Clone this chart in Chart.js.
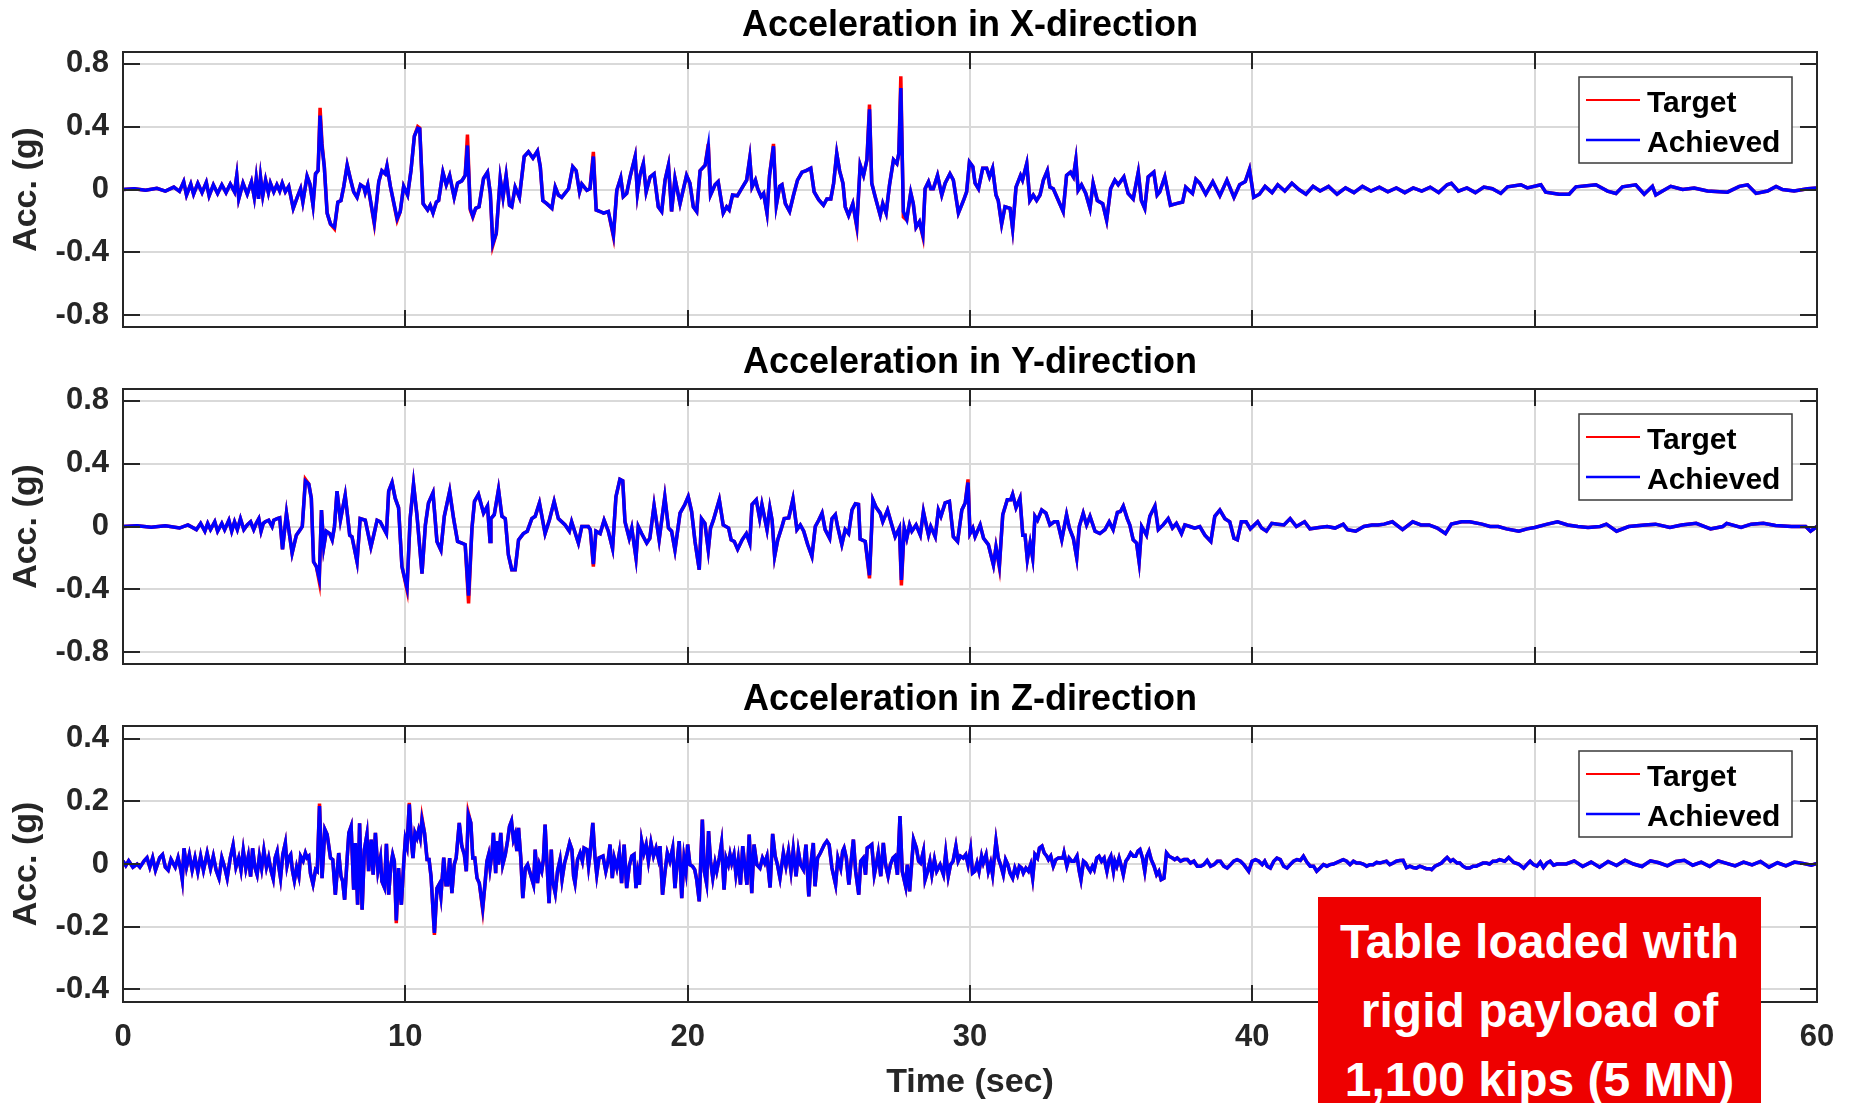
<!DOCTYPE html>
<html>
<head>
<meta charset="utf-8">
<title>Shake table acceleration</title>
<script src="https://cdn.jsdelivr.net/npm/chart.js@4.4.0/dist/chart.umd.min.js"></script>
<style>
  html, body { margin: 0; padding: 0; background: #fff; }
  body { width: 1853px; height: 1103px; position: relative; overflow: hidden; font-family: 'Liberation Sans', Arial, Helvetica, sans-serif; }
  .panel { position: absolute; left: 0; width: 1853px; }
  #note {
    position: absolute; left: 1318px; top: 897px; width: 443px; height: 206px;
    background: #ee0000; color: #fff; font-weight: bold; font-size: 48px;
    line-height: 69px; text-align: center; padding-top: 10px; box-sizing: border-box; z-index: 5;
  }
</style>
</head>
<body>
<div class="panel" style="top:0;height:337px"><canvas id="chartX"></canvas></div>
<div class="panel" style="top:337px;height:337px"><canvas id="chartY"></canvas></div>
<div class="panel" style="top:674px;height:429px"><canvas id="chartZ"></canvas></div>
<div id="note">Table loaded with<br>rigid payload of<br>1,100 kips (5 MN)</div>
<script>
// ---- tick values ----
const timeTicks = [0, 10, 20, 30, 40, 50, 60];
const accTicksXY = [-0.8, -0.4, 0, 0.4, 0.8];
const accTicksZ = [-0.4, -0.2, 0, 0.2, 0.4];

// ---- X direction (sec, g) ----
const xTime = [
  0, 0.4, 0.8, 1.2, 1.5, 1.8, 2.0, 2.15, 2.25, 2.4,
  2.5, 2.65, 2.8, 2.95, 3.05, 3.2, 3.35, 3.5, 3.65, 3.8,
  3.95, 4.03, 4.1, 4.25, 4.4, 4.55, 4.65, 4.72, 4.8, 4.87,
  4.95, 5.05, 5.15, 5.22, 5.34, 5.45, 5.55, 5.64, 5.75, 5.87,
  6.03, 6.17, 6.29, 6.37, 6.52, 6.62, 6.73, 6.82, 6.91, 6.98,
  7.05, 7.13, 7.23, 7.35, 7.49, 7.61, 7.72, 7.82, 7.94, 8.05,
  8.17, 8.29, 8.41, 8.53, 8.58, 8.67, 8.9, 9.06, 9.17, 9.29,
  9.35, 9.47, 9.71, 9.82, 9.94, 10.08, 10.2, 10.32, 10.44, 10.51,
  10.63, 10.79, 10.88, 10.98, 11.1, 11.18, 11.33, 11.45, 11.57, 11.73,
  11.85, 12.0, 12.12, 12.2, 12.3, 12.39, 12.49, 12.61, 12.77, 12.91,
  13.01, 13.1, 13.22, 13.36, 13.46, 13.57, 13.69, 13.77, 13.89, 14.04,
  14.21, 14.36, 14.52, 14.68, 14.78, 14.87, 15.01, 15.19, 15.31, 15.42,
  15.54, 15.78, 15.93, 16.05, 16.17, 16.25, 16.43, 16.54, 16.66, 16.76,
  16.9, 17.02, 17.19, 17.37, 17.49, 17.63, 17.72, 17.84, 17.96, 18.14,
  18.22, 18.31, 18.43, 18.53, 18.67, 18.81, 18.96, 19.08, 19.2, 19.32,
  19.43, 19.55, 19.73, 19.96, 20.08, 20.2, 20.32, 20.44, 20.62, 20.73,
  20.81, 20.97, 21.08, 21.26, 21.38, 21.47, 21.59, 21.76, 21.91, 22.09,
  22.2, 22.28, 22.4, 22.48, 22.6, 22.69, 22.81, 22.9, 23.04, 23.14,
  23.26, 23.34, 23.46, 23.61, 23.75, 23.89, 24.05, 24.2, 24.36, 24.48,
  24.64, 24.81, 24.93, 25.07, 25.17, 25.28, 25.38, 25.5, 25.58, 25.7,
  25.85, 25.99, 26.11, 26.23, 26.35, 26.44, 26.52, 26.64, 26.82, 26.91,
  27.03, 27.15, 27.29, 27.41, 27.48, 27.55, 27.64, 27.76, 27.9, 27.99,
  28.09, 28.21, 28.33, 28.41, 28.53, 28.61, 28.7, 28.85, 29.0, 29.12,
  29.29, 29.41, 29.59, 29.77, 29.88, 29.98, 30.1, 30.18, 30.3, 30.45,
  30.59, 30.69, 30.8, 30.92, 31.0, 31.12, 31.24, 31.42, 31.51, 31.63,
  31.79, 31.86, 32.01, 32.12, 32.24, 32.36, 32.48, 32.6, 32.74, 32.83,
  32.95, 33.13, 33.3, 33.42, 33.56, 33.66, 33.75, 33.83, 33.95, 34.1,
  34.25, 34.36, 34.51, 34.7, 34.84, 34.98, 35.13, 35.25, 35.45, 35.6,
  35.78, 35.96, 36.07, 36.19, 36.31, 36.51, 36.63, 36.72, 36.9, 37.1,
  37.31, 37.53, 37.64, 37.88, 38.0, 38.14, 38.35, 38.6, 38.85, 39.1,
  39.35, 39.55, 39.75, 39.9, 40.05, 40.25, 40.45, 40.7, 40.9, 41.15,
  41.4, 41.65, 41.9, 42.15, 42.4, 42.7, 43.0, 43.3, 43.6, 43.9,
  44.2, 44.5, 44.8, 45.1, 45.4, 45.7, 46.0, 46.3, 46.6, 46.9,
  47.05, 47.3, 47.6, 47.9, 48.2, 48.5, 48.8, 49.04, 49.51, 49.74,
  50.22, 50.39, 50.87, 51.22, 51.46, 52.17, 52.58, 52.88, 53.11, 53.58,
  53.88, 54.17, 54.29, 54.53, 54.82, 55.24, 55.65, 56.12, 56.83, 57.25,
  57.54, 57.84, 58.25, 58.55, 58.78, 59.19, 59.67, 60
];
const xTarget = [
  0, 0.005, -0.005, 0.008, -0.01, 0.015, -0.012, 0.05, -0.035, 0.035,
  -0.03, 0.04, -0.02, 0.045, -0.04, 0.03, -0.025, 0.03, -0.02, 0.035,
  -0.015, 0.09, -0.06, 0.04, -0.03, 0.05, -0.05, 0.07, -0.06, 0.08,
  -0.04, 0.06, -0.02, 0.04, -0.015, 0.03, -0.01, 0.04, -0.015, 0.02,
  -0.12, -0.05, 0.005, -0.08, 0.085, 0.035, -0.10, 0.10, 0.12, 0.52,
  0.29, 0.145, -0.15, -0.22, -0.25, -0.08, -0.07, 0.02, 0.155, 0.07,
  -0.015, -0.05, 0.03, 0.015, -0.02, 0.03, -0.22, 0.05, 0.12, 0.10,
  0.15, 0.02, -0.195, -0.14, 0.02, -0.035, 0.12, 0.34, 0.40, 0.39,
  -0.09, -0.13, -0.10, -0.15, -0.08, -0.07, 0.11, 0.03, 0.09, -0.05,
  0.04, 0.055, 0.09, 0.35, -0.13, -0.175, -0.12, -0.11, 0.07, 0.11,
  -0.025, -0.355, -0.28, 0.07, -0.05, 0.09, -0.10, -0.11, 0.015, -0.05,
  0.21, 0.24, 0.20, 0.245, 0.145, -0.07, -0.09, -0.12, 0.015, -0.035,
  -0.05, 0.005, 0.145, 0.12, -0.015, 0.035, -0.005, 0.005, 0.24, -0.13,
  -0.14, -0.15, -0.14, -0.30, -0.005, 0.075, -0.045, -0.025, 0.08, 0.21,
  -0.025, 0.09, 0.165, -0.015, 0.08, 0.10, -0.11, -0.14, 0.06, 0.155,
  -0.14, 0.07, -0.09, 0.09, 0.04, -0.11, -0.14, 0.12, 0.155, 0.29,
  -0.035, 0.03, 0.05, -0.15, -0.11, -0.13, -0.035, -0.04, 0.005, 0.06,
  0.20, 0.015, 0.06, 0.005, -0.045, -0.025, -0.15, 0.09, 0.29, -0.10,
  0.02, 0.03, -0.09, -0.14, -0.035, 0.06, 0.11, 0.12, 0.135, -0.015,
  -0.065, -0.10, -0.06, -0.06, 0.04, 0.23, 0.12, 0.04, -0.11, -0.165,
  -0.09, -0.24, 0.155, 0.09, 0.19, 0.54, 0.04, -0.045, -0.165, -0.09,
  -0.15, 0.03, 0.19, 0.165, 0.23, 0.72, -0.175, -0.195, -0.02, -0.09,
  -0.24, -0.205, -0.30, 0.005, 0.05, 0.005, 0.005, 0.09, -0.035, 0.04,
  0.10, 0.06, -0.15, -0.07, -0.015, 0.175, 0.145, 0.04, 0.005, 0.135,
  0.135, 0.08, 0.135, -0.035, -0.07, -0.22, -0.11, -0.12, -0.25, 0.015,
  0.09, 0.06, 0.165, -0.07, -0.035, -0.07, -0.035, 0.06, 0.12, 0.015,
  0.005, -0.07, -0.14, 0.09, 0.11, 0.08, 0.19, -0.005, 0.03, -0.025,
  -0.12, 0.04, -0.07, -0.09, -0.195, 0.005, 0.06, 0.03, 0.08, -0.025,
  -0.06, 0.11, -0.07, -0.12, 0.08, 0.11, -0.035, -0.015, 0.08, -0.10,
  -0.09, -0.08, 0.015, -0.025, 0.065, 0.04, -0.03, 0.05, -0.04, 0.06,
  -0.05, 0.03, 0.05, 0.13, -0.05, -0.03, 0.02, -0.02, 0.03, -0.01,
  0.04, 0.0, -0.03, 0.02, -0.01, 0.02, -0.03, 0.01, -0.02, 0.02,
  -0.01, 0.015, -0.015, 0.01, -0.02, 0.01, -0.01, 0.015, -0.02, 0.03,
  0.04, -0.01, 0.01, -0.02, 0.015, 0.005, -0.025, 0.017, 0.03, 0.01,
  0.03, -0.017, -0.03, -0.03, 0.017, 0.03, -0.01, -0.025, 0.017, 0.03,
  -0.03, 0.02, -0.035, -0.01, 0.02, 0.0, 0.01, -0.01, -0.017, 0.02,
  0.03, -0.025, -0.01, 0.02, 0.0, -0.01, 0.005, 0.01
];
const xAchieved = [
  0, 0.005, -0.005, 0.008, -0.01, 0.015, -0.012, 0.05, -0.035, 0.035,
  -0.03, 0.04, -0.02, 0.045, -0.04, 0.03, -0.025, 0.03, -0.02, 0.035,
  -0.015, 0.09, -0.06, 0.04, -0.03, 0.05, -0.05, 0.07, -0.06, 0.08,
  -0.04, 0.06, -0.02, 0.04, -0.015, 0.03, -0.01, 0.04, -0.015, 0.02,
  -0.12, -0.05, 0.005, -0.08, 0.085, 0.035, -0.10, 0.10, 0.12, 0.47,
  0.27, 0.145, -0.15, -0.22, -0.24, -0.08, -0.07, 0.02, 0.155, 0.07,
  -0.015, -0.05, 0.03, 0.015, -0.02, 0.03, -0.21, 0.05, 0.12, 0.10,
  0.15, 0.02, -0.185, -0.14, 0.02, -0.035, 0.12, 0.34, 0.39, 0.385,
  -0.09, -0.13, -0.10, -0.15, -0.08, -0.07, 0.11, 0.03, 0.09, -0.05,
  0.04, 0.055, 0.09, 0.28, -0.12, -0.17, -0.12, -0.11, 0.07, 0.11,
  -0.025, -0.345, -0.28, 0.07, -0.05, 0.09, -0.10, -0.11, 0.015, -0.05,
  0.21, 0.24, 0.20, 0.245, 0.145, -0.07, -0.09, -0.12, 0.015, -0.035,
  -0.05, 0.005, 0.145, 0.12, -0.015, 0.035, -0.005, 0.005, 0.21, -0.13,
  -0.14, -0.15, -0.14, -0.29, -0.005, 0.075, -0.045, -0.025, 0.08, 0.21,
  -0.025, 0.09, 0.165, -0.015, 0.08, 0.10, -0.11, -0.14, 0.06, 0.155,
  -0.14, 0.07, -0.09, 0.09, 0.04, -0.11, -0.14, 0.12, 0.155, 0.275,
  -0.035, 0.03, 0.05, -0.15, -0.11, -0.13, -0.035, -0.04, 0.005, 0.06,
  0.20, 0.015, 0.06, 0.005, -0.045, -0.025, -0.15, 0.09, 0.275, -0.10,
  0.02, 0.03, -0.09, -0.14, -0.035, 0.06, 0.11, 0.12, 0.135, -0.015,
  -0.065, -0.10, -0.06, -0.06, 0.04, 0.23, 0.12, 0.04, -0.11, -0.165,
  -0.09, -0.23, 0.155, 0.09, 0.19, 0.51, 0.04, -0.045, -0.165, -0.09,
  -0.15, 0.03, 0.19, 0.165, 0.23, 0.645, -0.14, -0.19, -0.02, -0.09,
  -0.24, -0.205, -0.29, 0.005, 0.05, 0.005, 0.005, 0.09, -0.035, 0.04,
  0.10, 0.06, -0.15, -0.07, -0.015, 0.175, 0.145, 0.04, 0.005, 0.135,
  0.135, 0.08, 0.135, -0.035, -0.07, -0.22, -0.11, -0.12, -0.25, 0.015,
  0.09, 0.06, 0.165, -0.07, -0.035, -0.07, -0.035, 0.06, 0.12, 0.015,
  0.005, -0.07, -0.14, 0.09, 0.11, 0.08, 0.19, -0.005, 0.03, -0.025,
  -0.12, 0.04, -0.07, -0.09, -0.195, 0.005, 0.06, 0.03, 0.08, -0.025,
  -0.06, 0.11, -0.07, -0.12, 0.08, 0.11, -0.035, -0.015, 0.08, -0.10,
  -0.09, -0.08, 0.015, -0.025, 0.065, 0.04, -0.03, 0.05, -0.04, 0.06,
  -0.05, 0.03, 0.05, 0.13, -0.05, -0.03, 0.02, -0.02, 0.03, -0.01,
  0.04, 0.0, -0.03, 0.02, -0.01, 0.02, -0.03, 0.01, -0.02, 0.02,
  -0.01, 0.015, -0.015, 0.01, -0.02, 0.01, -0.01, 0.015, -0.02, 0.03,
  0.04, -0.01, 0.01, -0.02, 0.015, 0.005, -0.025, 0.017, 0.03, 0.01,
  0.03, -0.017, -0.03, -0.03, 0.017, 0.03, -0.01, -0.025, 0.017, 0.03,
  -0.03, 0.02, -0.035, -0.01, 0.02, 0.0, 0.01, -0.01, -0.017, 0.02,
  0.03, -0.025, -0.01, 0.02, 0.0, -0.01, 0.005, 0.01
];

// ---- Y direction (sec, g) ----
const yTime = [
  0, 0.5, 1.0, 1.5, 2.0, 2.3, 2.6, 2.75, 2.9, 3.0,
  3.1, 3.25, 3.35, 3.5, 3.6, 3.75, 3.85, 3.95, 4.05, 4.16,
  4.28, 4.4, 4.52, 4.63, 4.72, 4.81, 4.89, 4.97, 5.04, 5.16,
  5.28, 5.34, 5.46, 5.55, 5.65, 5.79, 5.99, 6.14, 6.28, 6.35,
  6.46, 6.58, 6.67, 6.75, 6.85, 6.95, 7.03, 7.11, 7.2, 7.32,
  7.41, 7.49, 7.58, 7.7, 7.87, 8.03, 8.11, 8.29, 8.4, 8.58,
  8.78, 8.88, 9.0, 9.11, 9.33, 9.41, 9.53, 9.64, 9.76, 9.88,
  10.06, 10.17, 10.29, 10.41, 10.59, 10.71, 10.82, 10.98, 11.12, 11.26,
  11.38, 11.57, 11.71, 11.85, 12.0, 12.12, 12.24, 12.36, 12.45, 12.59,
  12.77, 12.91, 13.0, 13.03, 13.15, 13.3, 13.42, 13.54, 13.65, 13.77,
  13.89, 14.01, 14.18, 14.32, 14.48, 14.6, 14.75, 14.95, 15.1, 15.27,
  15.42, 15.66, 15.81, 15.89, 16.13, 16.25, 16.48, 16.55, 16.66, 16.75,
  16.9, 17.04, 17.19, 17.34, 17.46, 17.6, 17.7, 17.78, 17.93, 18.02,
  18.17, 18.25, 18.37, 18.55, 18.66, 18.81, 18.99, 19.19, 19.32, 19.43,
  19.55, 19.73, 19.9, 20.02, 20.14, 20.26, 20.41, 20.49, 20.61, 20.73,
  20.81, 20.91, 21.12, 21.26, 21.45, 21.54, 21.65, 21.77, 21.93, 22.08,
  22.2, 22.28, 22.43, 22.55, 22.63, 22.81, 22.91, 22.99, 23.08, 23.19,
  23.34, 23.42, 23.58, 23.73, 23.87, 23.99, 24.11, 24.25, 24.4, 24.52,
  24.64, 24.76, 24.87, 25.03, 25.11, 25.23, 25.31, 25.46, 25.58, 25.7,
  25.82, 25.94, 26.05, 26.11, 26.29, 26.44, 26.56, 26.68, 26.82, 26.91,
  27.08, 27.23, 27.35, 27.5, 27.57, 27.67, 27.76, 27.86, 27.94, 28.09,
  28.24, 28.35, 28.45, 28.53, 28.61, 28.77, 28.88, 28.97, 29.12, 29.27,
  29.41, 29.56, 29.71, 29.83, 29.93, 30.0, 30.1, 30.18, 30.36, 30.48,
  30.65, 30.83, 30.92, 31.04, 31.16, 31.32, 31.44, 31.51, 31.63, 31.77,
  31.87, 31.95, 32.03, 32.13, 32.22, 32.3, 32.39, 32.54, 32.69, 32.83,
  32.98, 33.1, 33.25, 33.42, 33.52, 33.66, 33.78, 33.87, 34.01, 34.13,
  34.25, 34.43, 34.6, 34.78, 34.93, 35.07, 35.22, 35.33, 35.43, 35.57,
  35.66, 35.78, 35.9, 35.99, 36.08, 36.25, 36.37, 36.55, 36.67, 36.84,
  37.02, 37.17, 37.31, 37.49, 37.61, 37.79, 37.96, 38.14, 38.32, 38.53,
  38.67, 38.85, 39.03, 39.2, 39.35, 39.47, 39.61, 39.78, 39.93, 40.19,
  40.33, 40.5, 40.69, 40.9, 41.12, 41.34, 41.56, 41.85, 42.04, 42.36,
  42.65, 42.93, 43.22, 43.37, 43.66, 43.95, 44.24, 44.45, 44.67, 44.96,
  45.32, 45.68, 45.97, 46.26, 46.55, 46.84, 47.05, 47.41, 47.7, 48.13,
  48.42, 48.71, 49.0, 49.44, 49.73, 50.0, 50.45, 50.81, 51.17, 51.53,
  51.89, 52.32, 52.54, 52.9, 53.33, 53.9, 54.28, 54.79, 55.2, 55.72,
  56.23, 56.66, 56.8, 57.31, 57.67, 58.1, 58.53, 59.1, 59.6, 59.77,
  60
];
const yTarget = [
  0, 0.005, -0.005, 0.005, -0.01, 0.01, -0.02, 0.02, -0.03, 0.02,
  -0.02, 0.03, -0.03, 0.02, -0.02, 0.04, -0.03, 0.03, -0.02, 0.05,
  -0.02, 0.01, 0.03, -0.02, 0.02, 0.05, -0.03, 0.02, 0.03, 0.04,
  0.0, 0.04, 0.05, 0.055, -0.145, 0.085, -0.17, -0.055, -0.02, 0.0,
  0.30, 0.27, 0.18, -0.225, -0.255, -0.35, 0.105, -0.13, -0.03, -0.045,
  -0.085, 0.0, 0.225, 0.04, 0.20, -0.055, -0.065, -0.225, 0.05, 0.04,
  -0.13, -0.055, 0.04, 0.03, -0.045, 0.225, 0.28, 0.18, 0.12, -0.255,
  -0.405, 0.05, 0.27, 0.075, -0.30, 0.01, 0.15, 0.215, -0.095, -0.15,
  0.065, 0.225, 0.05, -0.095, -0.105, -0.115, -0.49, -0.01, 0.16, 0.205,
  0.085, 0.13, -0.095, 0.05, 0.075, 0.235, 0.065, 0.05, -0.18, -0.275,
  -0.275, -0.085, -0.045, -0.03, 0.05, 0.065, 0.15, -0.045, 0.04, 0.16,
  0.05, 0.01, -0.03, 0.03, -0.105, 0.0, 0.0, -0.02, -0.255, -0.03,
  -0.045, 0.04, -0.03, -0.14, 0.19, 0.30, 0.29, 0.03, -0.075, -0.01,
  -0.20, 0.0, -0.045, -0.105, -0.075, 0.135, -0.085, 0.19, -0.01, -0.03,
  -0.15, 0.085, 0.14, 0.19, 0.095, -0.095, -0.275, 0.05, 0.02, -0.15,
  -0.01, 0.04, 0.17, 0.01, -0.01, -0.085, -0.095, -0.145, -0.085, -0.045,
  -0.105, 0.14, 0.17, 0.05, 0.14, -0.02, 0.12, 0.04, -0.19, -0.085,
  0.0, 0.05, 0.055, 0.175, -0.02, 0.01, -0.03, -0.115, -0.19, 0.0,
  0.04, 0.085, -0.02, -0.075, 0.05, 0.075, 0.0, -0.115, -0.02, -0.045,
  0.105, 0.145, 0.14, -0.08, -0.095, -0.33, 0.17, 0.12, 0.085, 0.03,
  0.105, 0.01, -0.065, -0.01, -0.375, -0.01, -0.075, 0.01, -0.03, 0.01,
  -0.055, 0.095, 0.01, -0.055, 0.0, -0.065, 0.105, 0.065, 0.15, 0.16,
  -0.065, -0.095, 0.105, 0.15, 0.30, -0.045, -0.01, -0.065, 0.01, -0.075,
  -0.115, -0.245, -0.13, -0.26, 0.075, 0.17, 0.17, 0.205, 0.12, 0.18,
  -0.055, -0.055, -0.21, -0.105, -0.20, 0.065, 0.04, 0.105, 0.085, 0.01,
  0.03, 0.03, -0.085, 0.075, -0.01, -0.075, -0.20, 0.0, 0.085, 0.01,
  0.065, -0.03, -0.045, -0.02, 0.03, -0.02, 0.09, 0.095, 0.13, 0.05,
  0.01, -0.085, -0.105, -0.225, 0.0, -0.055, 0.065, 0.13, -0.02, 0.01,
  0.05, -0.01, 0.02, -0.045, 0.01, 0.0, -0.01, 0.0, -0.055, -0.095,
  0.065, 0.105, 0.05, 0.03, -0.075, -0.085, 0.03, 0.03, -0.015, 0.03,
  -0.01, -0.03, 0.02, 0.015, 0.01, 0.05, 0.0, 0.03, -0.015, -0.006,
  0.0, -0.01, 0.015, -0.02, -0.03, 0.0, 0.01, 0.01, 0.015, 0.03,
  -0.02, 0.03, 0.01, 0.01, -0.01, -0.045, 0.015, 0.03, 0.03, 0.015,
  0.0, 0.0, -0.015, -0.03, -0.015, -0.006, 0.015, 0.03, 0.01, 0.0,
  -0.006, 0.0, 0.015, -0.03, 0.0, 0.01, 0.015, -0.006, 0.01, 0.02,
  -0.015, 0.0, 0.02, -0.006, 0.015, 0.02, 0.006, 0.0, 0.0, -0.03,
  0.0
];
const yAchieved = [
  0, 0.005, -0.005, 0.005, -0.01, 0.01, -0.02, 0.02, -0.03, 0.02,
  -0.02, 0.03, -0.03, 0.02, -0.02, 0.04, -0.03, 0.03, -0.02, 0.05,
  -0.02, 0.01, 0.03, -0.02, 0.02, 0.05, -0.03, 0.02, 0.03, 0.04,
  0.0, 0.04, 0.05, 0.055, -0.145, 0.085, -0.17, -0.055, -0.02, 0.0,
  0.29, 0.27, 0.18, -0.225, -0.255, -0.33, 0.105, -0.13, -0.03, -0.045,
  -0.085, 0.0, 0.225, 0.04, 0.20, -0.055, -0.065, -0.225, 0.05, 0.04,
  -0.13, -0.055, 0.04, 0.03, -0.045, 0.225, 0.28, 0.18, 0.12, -0.255,
  -0.39, 0.05, 0.27, 0.075, -0.30, 0.01, 0.15, 0.215, -0.095, -0.15,
  0.065, 0.225, 0.05, -0.095, -0.105, -0.115, -0.44, -0.01, 0.16, 0.205,
  0.085, 0.13, -0.095, 0.05, 0.075, 0.235, 0.065, 0.05, -0.18, -0.275,
  -0.275, -0.085, -0.045, -0.03, 0.05, 0.065, 0.15, -0.045, 0.04, 0.16,
  0.05, 0.01, -0.03, 0.03, -0.105, 0.0, 0.0, -0.02, -0.24, -0.03,
  -0.045, 0.04, -0.03, -0.14, 0.19, 0.30, 0.29, 0.03, -0.075, -0.01,
  -0.20, 0.0, -0.045, -0.105, -0.075, 0.135, -0.085, 0.19, -0.01, -0.03,
  -0.15, 0.085, 0.14, 0.19, 0.095, -0.095, -0.275, 0.05, 0.02, -0.15,
  -0.01, 0.04, 0.17, 0.01, -0.01, -0.085, -0.095, -0.145, -0.085, -0.045,
  -0.105, 0.14, 0.17, 0.05, 0.14, -0.02, 0.12, 0.04, -0.19, -0.085,
  0.0, 0.05, 0.055, 0.175, -0.02, 0.01, -0.03, -0.115, -0.19, 0.0,
  0.04, 0.085, -0.02, -0.075, 0.05, 0.075, 0.0, -0.115, -0.02, -0.045,
  0.105, 0.145, 0.14, -0.08, -0.095, -0.31, 0.17, 0.12, 0.085, 0.03,
  0.105, 0.01, -0.065, -0.01, -0.34, -0.01, -0.075, 0.01, -0.03, 0.01,
  -0.055, 0.095, 0.01, -0.055, 0.0, -0.065, 0.105, 0.065, 0.15, 0.16,
  -0.065, -0.095, 0.105, 0.15, 0.28, -0.045, -0.01, -0.065, 0.01, -0.075,
  -0.115, -0.245, -0.13, -0.25, 0.075, 0.17, 0.17, 0.205, 0.12, 0.18,
  -0.055, -0.055, -0.21, -0.105, -0.20, 0.065, 0.04, 0.105, 0.085, 0.01,
  0.03, 0.03, -0.085, 0.075, -0.01, -0.075, -0.20, 0.0, 0.085, 0.01,
  0.065, -0.03, -0.045, -0.02, 0.03, -0.02, 0.09, 0.095, 0.13, 0.05,
  0.01, -0.085, -0.105, -0.225, 0.0, -0.055, 0.065, 0.13, -0.02, 0.01,
  0.05, -0.01, 0.02, -0.045, 0.01, 0.0, -0.01, 0.0, -0.055, -0.095,
  0.065, 0.105, 0.05, 0.03, -0.075, -0.085, 0.03, 0.03, -0.015, 0.03,
  -0.01, -0.03, 0.02, 0.015, 0.01, 0.05, 0.0, 0.03, -0.015, -0.006,
  0.0, -0.01, 0.015, -0.02, -0.03, 0.0, 0.01, 0.01, 0.015, 0.03,
  -0.02, 0.03, 0.01, 0.01, -0.01, -0.045, 0.015, 0.03, 0.03, 0.015,
  0.0, 0.0, -0.015, -0.03, -0.015, -0.006, 0.015, 0.03, 0.01, 0.0,
  -0.006, 0.0, 0.015, -0.03, 0.0, 0.01, 0.015, -0.006, 0.01, 0.02,
  -0.015, 0.0, 0.02, -0.006, 0.015, 0.02, 0.006, 0.0, 0.0, -0.03,
  0.0
];

// ---- Z direction (sec, g) ----
const zTime = [
  0, 0.1, 0.2, 0.35, 0.5, 0.6, 0.75, 0.85, 0.95, 1.05,
  1.15, 1.3, 1.4, 1.5, 1.6, 1.7, 1.85, 1.95, 2.05, 2.1,
  2.16, 2.25, 2.35, 2.45, 2.55, 2.65, 2.75, 2.85, 2.98, 3.1,
  3.2, 3.3, 3.4, 3.5, 3.6, 3.69, 3.8, 3.9, 4.0, 4.1,
  4.18, 4.26, 4.35, 4.44, 4.52, 4.59, 4.67, 4.75, 4.83, 4.91,
  4.99, 5.08, 5.16, 5.24, 5.32, 5.39, 5.46, 5.52, 5.58, 5.66,
  5.75, 5.81, 5.87, 5.94, 6.0, 6.07, 6.15, 6.23, 6.29, 6.38,
  6.46, 6.52, 6.58, 6.64, 6.73, 6.82, 6.88, 6.96, 7.05, 7.15,
  7.23, 7.35, 7.43, 7.52, 7.64, 7.72, 7.78, 7.85, 7.94, 8.0,
  8.08, 8.17, 8.23, 8.31, 8.38, 8.47, 8.55, 8.64, 8.7, 8.79,
  8.86, 8.94, 9.03, 9.12, 9.17, 9.26, 9.33, 9.41, 9.49, 9.55,
  9.61, 9.68, 9.76, 9.81, 9.86, 9.94, 10.0, 10.06, 10.14, 10.21,
  10.27, 10.34, 10.41, 10.47, 10.53, 10.59, 10.68, 10.77, 10.84, 10.91,
  10.97, 11.03, 11.12, 11.2, 11.26, 11.36, 11.44, 11.5, 11.57, 11.65,
  11.73, 11.8, 11.91, 12.0, 12.09, 12.16, 12.23, 12.32, 12.39, 12.46,
  12.54, 12.62, 12.74, 12.83, 12.89, 12.95, 13.0, 13.07, 13.12, 13.2,
  13.24, 13.3, 13.38, 13.45, 13.54, 13.62, 13.69, 13.76, 13.83, 13.89,
  13.95, 14.01, 14.09, 14.16, 14.25, 14.33, 14.42, 14.54, 14.6, 14.68,
  14.75, 14.83, 14.89, 14.95, 15.02, 15.09, 15.17, 15.22, 15.31, 15.39,
  15.48, 15.55, 15.64, 15.72, 15.82, 15.9, 15.96, 16.01, 16.1, 16.19,
  16.27, 16.33, 16.43, 16.49, 16.54, 16.64, 16.72, 16.78, 16.86, 17.0,
  17.1, 17.18, 17.25, 17.33, 17.4, 17.49, 17.58, 17.66, 17.75, 17.84,
  17.93, 18.02, 18.1, 18.17, 18.23, 18.29, 18.37, 18.45, 18.53, 18.61,
  18.7, 18.79, 18.88, 18.96, 19.02, 19.11, 19.2, 19.28, 19.37, 19.47,
  19.55, 19.63, 19.7, 19.79, 19.87, 19.94, 20.0, 20.08, 20.17, 20.25,
  20.32, 20.41, 20.52, 20.59, 20.67, 20.74, 20.81, 20.89, 20.97, 21.03,
  21.12, 21.2, 21.29, 21.36, 21.44, 21.5, 21.56, 21.64, 21.71, 21.79,
  21.87, 21.95, 22.02, 22.1, 22.18, 22.27, 22.35, 22.45, 22.56, 22.65,
  22.73, 22.81, 22.92, 23.01, 23.1, 23.18, 23.27, 23.39, 23.48, 23.57,
  23.66, 23.74, 23.84, 23.92, 24.0, 24.1, 24.19, 24.29, 24.36, 24.45,
  24.51, 24.6, 24.7, 24.84, 24.93, 25.01, 25.11, 25.24, 25.32, 25.42,
  25.49, 25.54, 25.62, 25.71, 25.79, 25.87, 25.95, 26.06, 26.13, 26.22,
  26.3, 26.36, 26.45, 26.52, 26.61, 26.68, 26.75, 26.84, 26.93, 27.01,
  27.1, 27.18, 27.27, 27.34, 27.43, 27.52, 27.6, 27.72, 27.78, 27.86,
  27.94, 28.0, 28.1, 28.18, 28.25, 28.35, 28.41, 28.5, 28.58, 28.65,
  28.74, 28.82, 28.94, 29.06, 29.14, 29.23, 29.31, 29.4, 29.5, 29.58,
  29.66, 29.76, 29.85, 29.93, 30.02, 30.09, 30.17, 30.25, 30.32, 30.41,
  30.47, 30.57, 30.65, 30.73, 30.8, 30.92, 31.0, 31.1, 31.18, 31.26,
  31.34, 31.42, 31.51, 31.59, 31.68, 31.75, 31.83, 31.89, 31.98, 32.07,
  32.15, 32.22, 32.3, 32.39, 32.46, 32.55, 32.63, 32.72, 32.78, 32.86,
  32.95, 33.04, 33.13, 33.29, 33.33, 33.43, 33.51, 33.6, 33.69, 33.79,
  33.87, 33.93, 34.02, 34.1, 34.19, 34.26, 34.34, 34.4, 34.49, 34.57,
  34.66, 34.75, 34.85, 34.93, 34.99, 35.08, 35.13, 35.2, 35.28, 35.36,
  35.43, 35.52, 35.6, 35.69, 35.79, 35.87, 35.95, 36.02, 36.11, 36.19,
  36.26, 36.34, 36.42, 36.52, 36.61, 36.69, 36.77, 36.87, 36.96, 37.05,
  37.17, 37.25, 37.34, 37.46, 37.58, 37.7, 37.81, 37.93, 38.05, 38.17,
  38.28, 38.4, 38.52, 38.64, 38.76, 38.87, 38.99, 39.11, 39.23, 39.34,
  39.46, 39.58, 39.7, 39.87, 39.99, 40.11, 40.23, 40.35, 40.44, 40.53,
  40.64, 40.76, 40.87, 40.99, 41.11, 41.23, 41.34, 41.46, 41.58, 41.7,
  41.81, 41.93, 42.05, 42.17, 42.28, 42.4, 42.52, 42.64, 42.75, 42.87,
  43.1, 43.22, 43.34, 43.46, 43.58, 43.69, 43.81, 43.93, 44.05, 44.16,
  44.28, 44.4, 44.52, 44.63, 44.75, 44.87, 44.99, 45.1, 45.22, 45.34,
  45.46, 45.58, 45.69, 45.81, 45.93, 46.05, 46.16, 46.28, 46.35, 46.47,
  46.59, 46.7, 46.82, 46.9, 47.02, 47.11, 47.25, 47.35, 47.46, 47.58,
  47.7, 47.82, 47.93, 48.05, 48.17, 48.29, 48.4, 48.52, 48.64, 48.76,
  48.94, 49.08, 49.26, 49.43, 49.61, 49.72, 49.84, 49.96, 50.08, 50.2,
  50.31, 50.43, 50.55, 50.67, 50.79, 50.9, 51.12, 51.4, 51.7, 52.0,
  52.3, 52.6, 52.9, 53.2, 53.5, 53.8, 54.1, 54.4, 54.7, 55.0,
  55.3, 55.6, 55.9, 56.2, 56.5, 56.8, 57.1, 57.4, 57.7, 58.0,
  58.3, 58.6, 58.9, 59.2, 59.5, 59.8, 60
];
const zTarget = [
  0.01, -0.005, 0.01, -0.01, 0.0, -0.01, 0.01, 0.02, -0.01, 0.02,
  -0.02, 0.02, 0.03, -0.01, -0.02, 0.015, -0.01, 0.02, -0.02, -0.05,
  0.05, -0.01, 0.03, -0.02, 0.02, -0.025, 0.025, -0.02, 0.035, -0.015,
  0.025, -0.02, -0.045, 0.02, -0.01, -0.045, 0.02, 0.06, -0.01, 0.02,
  -0.02, 0.043, -0.015, 0.025, -0.04, 0.05, -0.01, -0.034, 0.025, -0.015,
  0.043, -0.01, 0.02, -0.02, -0.047, 0.02, 0.04, -0.01, -0.045, 0.03,
  0.067, -0.005, 0.02, 0.03, -0.02, -0.053, -0.01, -0.039, 0.025, 0.01,
  0.035, 0.02, 0.025, -0.03, -0.064, -0.018, -0.023, 0.193, -0.045, 0.11,
  0.094, 0.019, 0.014, -0.098, 0.035, -0.039, -0.055, -0.114, 0.019, 0.099,
  0.12, -0.082, 0.067, -0.13, 0.13, -0.146, 0.046, 0.094, -0.023, 0.078,
  -0.034, 0.099, -0.023, 0.02, -0.055, -0.075, 0.064, -0.098, -0.002, 0.03,
  0.009, -0.189, -0.013, -0.087, -0.13, -0.002, 0.078, 0.057, 0.195, 0.078,
  0.019, 0.099, 0.083, 0.107, 0.083, 0.147, 0.099, 0.014, 0.014, -0.039,
  -0.13, -0.226, -0.077, -0.064, -0.103, 0.02, -0.066, -0.066, 0.019, -0.093,
  -0.002, 0.019, 0.131, 0.057, 0.03, -0.023, 0.163, 0.131, 0.019, 0.019,
  -0.045, -0.061, -0.146, -0.055, 0.009, 0.03, -0.013, 0.035, 0.099, -0.029,
  0.073, -0.002, 0.099, -0.002, 0.03, 0.073, 0.12, 0.137, 0.078, 0.094,
  0.041, 0.115, 0.019, -0.109, -0.013, -0.002, -0.029, -0.066, 0.046, -0.061,
  -0.002, -0.023, 0.014, 0.126, -0.002, -0.125, 0.046, -0.055, -0.093, -0.023,
  0.014, -0.05, 0.003, 0.03, 0.067, 0.046, -0.039, -0.061, 0.014, 0.035,
  0.009, 0.051, 0.046, -0.007, 0.03, 0.131, 0.019, -0.034, 0.019, 0.025,
  -0.023, 0.009, 0.062, -0.045, 0.019, -0.013, 0.035, -0.061, 0.062, -0.077,
  -0.007, 0.025, 0.03, -0.077, -0.029, -0.066, 0.073, 0.035, 0.062, 0.009,
  0.067, 0.025, 0.051, 0.019, 0.057, -0.098, -0.023, 0.035, 0.009, 0.051,
  -0.077, 0.009, 0.073, -0.109, 0.019, -0.023, 0.062, -0.002, -0.007, -0.018,
  -0.05, -0.119, 0.142, -0.023, -0.061, 0.105, 0.009, -0.045, 0.003, -0.023,
  0.019, 0.067, -0.082, 0.019, -0.002, 0.03, 0.003, 0.03, -0.034, 0.014,
  -0.066, 0.057, -0.002, -0.066, 0.094, -0.093, 0.062, -0.002, -0.013, 0.019,
  0.003, 0.025, -0.075, 0.096, 0.025, -0.002, -0.045, 0.035, -0.007, 0.041,
  -0.023, 0.046, -0.039, 0.041, -0.002, -0.018, 0.062, -0.103, -0.002, 0.067,
  -0.071, 0.019, 0.035, 0.062, 0.073, 0.062, -0.013, -0.066, 0.019, -0.013,
  0.041, 0.051, 0.019, -0.066, 0.009, 0.078, -0.023, -0.098, 0.009, 0.019,
  -0.034, 0.051, 0.057, 0.062, -0.034, -0.002, 0.035, -0.039, 0.067, -0.002,
  -0.039, -0.002, 0.019, 0.025, -0.034, 0.153, -0.023, -0.071, -0.002, -0.087,
  0.009, 0.078, 0.051, 0.009, 0.003, 0.041, -0.05, -0.023, 0.009, -0.034,
  0.014, -0.023, -0.002, -0.034, 0.035, -0.039, -0.002, 0.009, 0.057, 0.009,
  0.025, 0.019, 0.03, -0.002, 0.046, -0.029, -0.023, 0.003, -0.023, 0.025,
  0.003, 0.03, -0.023, 0.003, -0.034, 0.073, 0.019, -0.007, -0.034, 0.014,
  -0.002, -0.029, -0.045, -0.013, -0.034, -0.007, -0.013, -0.029, -0.013, -0.023,
  -0.002, -0.045, 0.03, 0.019, 0.051, 0.057, 0.035, 0.025, 0.014, 0.025,
  -0.007, 0.014, 0.019, 0.019, 0.035, -0.007, 0.019, 0.009, 0.009, 0.025,
  -0.023, -0.05, 0.009, 0.003, -0.013, -0.023, -0.007, -0.018, 0.019, 0.025,
  0.009, 0.019, -0.023, 0.014, 0.025, -0.023, 0.009, -0.007, 0.019, -0.007,
  -0.034, 0.009, 0.019, 0.035, 0.025, 0.025, 0.041, 0.046, 0.019, -0.023,
  0.025, 0.041, 0.014, -0.007, -0.034, -0.023, -0.05, -0.045, 0.035, 0.025,
  0.019, 0.014, 0.019, 0.009, 0.014, 0.014, 0.003, 0.009, -0.007, -0.007,
  -0.002, 0.011, -0.007, -0.002, 0.009, 0.009, -0.007, -0.013, -0.002, 0.009,
  0.014, 0.009, -0.002, -0.023, 0.009, 0.014, 0.009, -0.002, 0.009, -0.007,
  -0.013, 0.009, 0.019, 0.014, -0.007, -0.013, -0.002, 0.009, 0.014, 0.011,
  0.025, 0.006, -0.007, -0.007, -0.023, -0.013, -0.002, -0.007, -0.002, 0.0,
  0.009, 0.014, 0.009, -0.002, 0.009, 0.003, 0.003, 0.0, -0.007, -0.002,
  -0.002, 0.005, 0.003, 0.006, 0.009, -0.002, 0.003, 0.009, 0.011, 0.012,
  -0.012, -0.007, -0.011, -0.013, -0.007, -0.011, -0.015, -0.015, -0.018, -0.007,
  -0.002, 0.003, 0.014, 0.021, 0.009, 0.014, 0.003, 0.003, -0.007, -0.013,
  -0.013, -0.007, -0.007, -0.002, 0.003, 0.003, 0.0, 0.009, 0.009, 0.014,
  0.009, 0.021, 0.005, 0.0, -0.013, -0.002, 0.009, -0.002, -0.007, 0.006,
  -0.011, 0.003, 0.009, -0.004, 0.0, 0.0, 0.0, 0.01, -0.008, 0.006,
  -0.01, 0.008, -0.005, 0.012, 0.0, -0.008, 0.01, 0.004, -0.006, 0.008,
  0.012, -0.004, 0.006, -0.008, 0.01, 0.002, -0.006, 0.006, -0.003, 0.008,
  -0.01, 0.004, -0.006, 0.006, 0.002, -0.004, 0.002
];
const zAchieved = [
  0.01, -0.005, 0.01, -0.01, 0.0, -0.01, 0.01, 0.02, -0.01, 0.02,
  -0.02, 0.02, 0.03, -0.01, -0.02, 0.015, -0.01, 0.02, -0.02, -0.05,
  0.05, -0.01, 0.03, -0.02, 0.02, -0.025, 0.025, -0.02, 0.035, -0.015,
  0.025, -0.02, -0.045, 0.02, -0.01, -0.045, 0.02, 0.06, -0.01, 0.02,
  -0.02, 0.043, -0.015, 0.025, -0.04, 0.05, -0.01, -0.034, 0.025, -0.015,
  0.043, -0.01, 0.02, -0.02, -0.047, 0.02, 0.04, -0.01, -0.045, 0.03,
  0.067, -0.005, 0.02, 0.03, -0.02, -0.053, -0.01, -0.039, 0.025, 0.01,
  0.035, 0.02, 0.025, -0.03, -0.064, -0.018, -0.023, 0.185, -0.045, 0.11,
  0.094, 0.019, 0.014, -0.098, 0.035, -0.039, -0.055, -0.114, 0.019, 0.099,
  0.12, -0.082, 0.067, -0.13, 0.13, -0.146, 0.046, 0.094, -0.023, 0.078,
  -0.034, 0.099, -0.023, 0.02, -0.055, -0.075, 0.064, -0.098, -0.002, 0.03,
  0.009, -0.18, -0.013, -0.087, -0.13, -0.002, 0.078, 0.057, 0.19, 0.078,
  0.019, 0.099, 0.083, 0.107, 0.083, 0.14, 0.099, 0.014, 0.014, -0.039,
  -0.13, -0.22, -0.077, -0.064, -0.103, 0.02, -0.066, -0.066, 0.019, -0.093,
  -0.002, 0.019, 0.131, 0.057, 0.03, -0.023, 0.157, 0.131, 0.019, 0.019,
  -0.045, -0.061, -0.14, -0.055, 0.009, 0.03, -0.013, 0.035, 0.099, -0.029,
  0.073, -0.002, 0.099, -0.002, 0.03, 0.073, 0.12, 0.137, 0.078, 0.094,
  0.041, 0.115, 0.019, -0.109, -0.013, -0.002, -0.029, -0.066, 0.046, -0.061,
  -0.002, -0.023, 0.014, 0.126, -0.002, -0.125, 0.046, -0.055, -0.093, -0.023,
  0.014, -0.05, 0.003, 0.03, 0.067, 0.046, -0.039, -0.061, 0.014, 0.035,
  0.009, 0.051, 0.046, -0.007, 0.03, 0.131, 0.019, -0.034, 0.019, 0.025,
  -0.023, 0.009, 0.062, -0.045, 0.019, -0.013, 0.035, -0.061, 0.062, -0.077,
  -0.007, 0.025, 0.03, -0.077, -0.029, -0.066, 0.073, 0.035, 0.062, 0.009,
  0.067, 0.025, 0.051, 0.019, 0.057, -0.098, -0.023, 0.035, 0.009, 0.051,
  -0.077, 0.009, 0.073, -0.109, 0.019, -0.023, 0.062, -0.002, -0.007, -0.018,
  -0.05, -0.119, 0.142, -0.023, -0.061, 0.105, 0.009, -0.045, 0.003, -0.023,
  0.019, 0.067, -0.082, 0.019, -0.002, 0.03, 0.003, 0.03, -0.034, 0.014,
  -0.066, 0.057, -0.002, -0.066, 0.094, -0.093, 0.062, -0.002, -0.013, 0.019,
  0.003, 0.025, -0.075, 0.096, 0.025, -0.002, -0.045, 0.035, -0.007, 0.041,
  -0.023, 0.046, -0.039, 0.041, -0.002, -0.018, 0.062, -0.103, -0.002, 0.067,
  -0.071, 0.019, 0.035, 0.062, 0.073, 0.062, -0.013, -0.066, 0.019, -0.013,
  0.041, 0.051, 0.019, -0.066, 0.009, 0.078, -0.023, -0.098, 0.009, 0.019,
  -0.034, 0.051, 0.057, 0.062, -0.034, -0.002, 0.035, -0.039, 0.067, -0.002,
  -0.039, -0.002, 0.019, 0.025, -0.034, 0.153, -0.023, -0.071, -0.002, -0.087,
  0.009, 0.078, 0.051, 0.009, 0.003, 0.041, -0.05, -0.023, 0.009, -0.034,
  0.014, -0.023, -0.002, -0.034, 0.035, -0.039, -0.002, 0.009, 0.057, 0.009,
  0.025, 0.019, 0.03, -0.002, 0.046, -0.029, -0.023, 0.003, -0.023, 0.025,
  0.003, 0.03, -0.023, 0.003, -0.034, 0.073, 0.019, -0.007, -0.034, 0.014,
  -0.002, -0.029, -0.045, -0.013, -0.034, -0.007, -0.013, -0.029, -0.013, -0.023,
  -0.002, -0.045, 0.03, 0.019, 0.051, 0.057, 0.035, 0.025, 0.014, 0.025,
  -0.007, 0.014, 0.019, 0.019, 0.035, -0.007, 0.019, 0.009, 0.009, 0.025,
  -0.023, -0.05, 0.009, 0.003, -0.013, -0.023, -0.007, -0.018, 0.019, 0.025,
  0.009, 0.019, -0.023, 0.014, 0.025, -0.023, 0.009, -0.007, 0.019, -0.007,
  -0.034, 0.009, 0.019, 0.035, 0.025, 0.025, 0.041, 0.046, 0.019, -0.023,
  0.025, 0.041, 0.014, -0.007, -0.034, -0.023, -0.05, -0.045, 0.035, 0.025,
  0.019, 0.014, 0.019, 0.009, 0.014, 0.014, 0.003, 0.009, -0.007, -0.007,
  -0.002, 0.011, -0.007, -0.002, 0.009, 0.009, -0.007, -0.013, -0.002, 0.009,
  0.014, 0.009, -0.002, -0.023, 0.009, 0.014, 0.009, -0.002, 0.009, -0.007,
  -0.013, 0.009, 0.019, 0.014, -0.007, -0.013, -0.002, 0.009, 0.014, 0.011,
  0.025, 0.006, -0.007, -0.007, -0.023, -0.013, -0.002, -0.007, -0.002, 0.0,
  0.009, 0.014, 0.009, -0.002, 0.009, 0.003, 0.003, 0.0, -0.007, -0.002,
  -0.002, 0.005, 0.003, 0.006, 0.009, -0.002, 0.003, 0.009, 0.011, 0.012,
  -0.012, -0.007, -0.011, -0.013, -0.007, -0.011, -0.015, -0.015, -0.018, -0.007,
  -0.002, 0.003, 0.014, 0.021, 0.009, 0.014, 0.003, 0.003, -0.007, -0.013,
  -0.013, -0.007, -0.007, -0.002, 0.003, 0.003, 0.0, 0.009, 0.009, 0.014,
  0.009, 0.021, 0.005, 0.0, -0.013, -0.002, 0.009, -0.002, -0.007, 0.006,
  -0.011, 0.003, 0.009, -0.004, 0.0, 0.0, 0.0, 0.01, -0.008, 0.006,
  -0.01, 0.008, -0.005, 0.012, 0.0, -0.008, 0.01, 0.004, -0.006, 0.008,
  0.012, -0.004, 0.006, -0.008, 0.01, 0.002, -0.006, 0.006, -0.003, 0.008,
  -0.01, 0.004, -0.006, 0.006, 0.002, -0.004, 0.002
];

const FONT = "'Liberation Sans', Arial, Helvetica, sans-serif";
const AXIS_COLOR = '#262626';
const TICK_LEN = 17;

Chart.defaults.font.family = FONT;
Chart.defaults.font.weight = 'bold';
Chart.defaults.color = AXIS_COLOR;

function series(time, values) {
  return time.map((t, i) => ({ x: t, y: values[i] }));
}

// box around the plot with matlab-style inward ticks on all four sides
const framePlugin = {
  id: 'frame',
  afterDraw(chart) {
    const { ctx, chartArea: a, scales } = chart;
    ctx.save();
    ctx.strokeStyle = AXIS_COLOR;
    ctx.lineWidth = 2;
    ctx.beginPath();
    scales.x.ticks.forEach(t => {
      const px = Math.round(scales.x.getPixelForValue(t.value));
      ctx.moveTo(px, a.top); ctx.lineTo(px, a.top + TICK_LEN);
      ctx.moveTo(px, a.bottom); ctx.lineTo(px, a.bottom - TICK_LEN);
    });
    scales.y.ticks.forEach(t => {
      const py = Math.round(scales.y.getPixelForValue(t.value));
      ctx.moveTo(a.left, py); ctx.lineTo(a.left + TICK_LEN, py);
      ctx.moveTo(a.right, py); ctx.lineTo(a.right - TICK_LEN, py);
    });
    ctx.stroke();
    ctx.strokeRect(a.left, a.top, a.right - a.left, a.bottom - a.top);
    ctx.restore();
  }
};

// legend in a white box at the upper right of the plot
const legendBoxPlugin = {
  id: 'legendBox',
  afterDraw(chart) {
    const { ctx, chartArea: a } = chart;
    const w = 213, h = 86;
    const x = a.right - 25 - w, y = a.top + 25;
    ctx.save();
    ctx.fillStyle = '#fff';
    ctx.fillRect(x, y, w, h);
    ctx.strokeStyle = '#3a3a3a';
    ctx.lineWidth = 1.5;
    ctx.strokeRect(x, y, w, h);
    ctx.font = 'bold 30px ' + FONT;
    ctx.textBaseline = 'alphabetic';
    chart.data.datasets.forEach((ds, i) => {
      const rowY = y + 23 + i * 40;
      ctx.strokeStyle = ds.borderColor;
      ctx.lineWidth = i === 0 ? 2 : 2.5;
      ctx.beginPath();
      ctx.moveTo(x + 7, rowY);
      ctx.lineTo(x + 61, rowY);
      ctx.stroke();
      ctx.fillStyle = '#000';
      ctx.fillText(ds.label, x + 68, rowY + 11.5);
    });
    ctx.restore();
  }
};

function makePanel(id, title, time, target, achieved, yLimit, yTicks, showTime) {
  return new Chart(document.getElementById(id), {
    type: 'line',
    data: {
      datasets: [
        { label: 'Target', data: series(time, target), borderColor: '#ff0000',
          borderWidth: 3.5, pointRadius: 0, tension: 0, order: 2 },
        { label: 'Achieved', data: series(time, achieved), borderColor: '#0000ff',
          borderWidth: 3.5, pointRadius: 0, tension: 0, order: 1 }
      ]
    },
    options: {
      responsive: true,
      maintainAspectRatio: false,
      animation: false,
      events: [],
      layout: { padding: { left: 0, right: 36, top: 0, bottom: 0 } },
      plugins: {
        legend: { display: false },
        tooltip: { enabled: false },
        title: {
          display: true, text: title, fullSize: false, color: '#000',
          font: { size: 36, weight: 'bold' }, padding: { top: 4.8, bottom: 4.0 }
        }
      },
      scales: {
        x: {
          type: 'linear', min: 0, max: 60,
          afterBuildTicks: s => { s.ticks = timeTicks.map(v => ({ value: v })); },
          afterFit: s => {
            s.height = showTime ? 101 : 10;
            s.paddingLeft = 0; s.paddingRight = 0;
          },
          grid: { color: '#d9d9d9', lineWidth: 2, drawTicks: false },
          border: { display: false },
          ticks: { display: showTime, padding: 17, autoSkip: false, maxRotation: 0,
                   font: { size: 31, weight: 'bold' }, callback: v => String(v) },
          title: { display: showTime, text: 'Time (sec)', color: AXIS_COLOR,
                   font: { size: 34, weight: 'bold' }, padding: { top: 0, bottom: 0 } }
        },
        y: {
          min: -yLimit, max: yLimit,
          afterBuildTicks: s => { s.ticks = yTicks.map(v => ({ value: v })); },
          // fixed gutter, and let the end labels hang past the plot edges
          afterFit: s => {
            s.width = 123;
            s.paddingTop = 0; s.paddingBottom = 0;
          },
          grid: { color: '#d9d9d9', lineWidth: 2, drawTicks: false },
          border: { display: false },
          ticks: { padding: 14, autoSkip: false, font: { size: 31, weight: 'bold' },
                   callback: v => String(v) },
          title: { display: true, text: 'Acc. (g)', color: AXIS_COLOR,
                   font: { size: 34, weight: 'bold' }, padding: { top: 6, bottom: 0 } }
        }
      }
    },
    plugins: [framePlugin, legendBoxPlugin]
  });
}

makePanel('chartX', 'Acceleration in X-direction', xTime, xTarget, xAchieved, 0.875, accTicksXY, false);
makePanel('chartY', 'Acceleration in Y-direction', yTime, yTarget, yAchieved, 0.875, accTicksXY, false);
makePanel('chartZ', 'Acceleration in Z-direction', zTime, zTarget, zAchieved, 0.44, accTicksZ, true);
</script>
</body>
</html>
